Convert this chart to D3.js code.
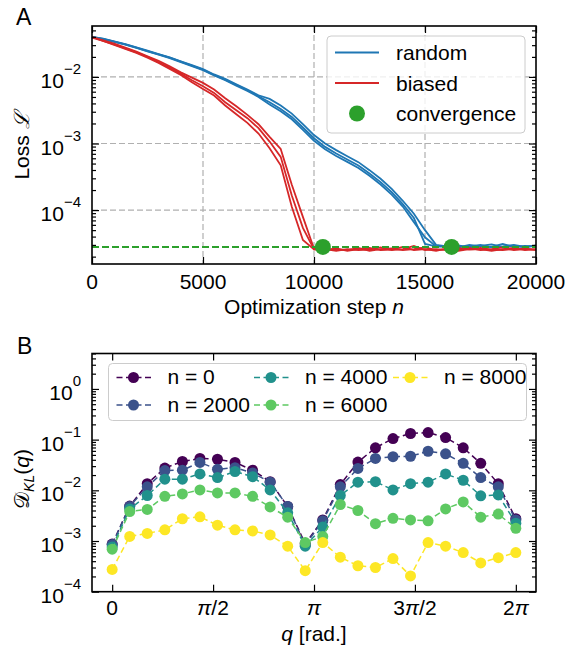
<!DOCTYPE html>
<html>
<head>
<meta charset="utf-8">
<script src="https://cdn.jsdelivr.net/npm/d3@7"></script>
<style>
  body { margin: 0; background: #fff; }
  svg text { font-family: "Liberation Sans", Arial, Helvetica, sans-serif; fill: #000; }
</style>
</head>
<body>
<div id="chart"></div>
<script>
// ---------- panel A : loss vs optimization step ----------
const steps = [0, 500, 1000, 1500, 2000, 2500, 3000, 3500, 4000, 4500, 5000, 5500, 6000, 6500,
  7000, 7500, 8000, 8500, 9000, 9500, 10000, 10500, 11000, 11500, 12000, 12500, 13000, 13500,
  14000, 14500, 15000, 15500, 16000, 16500, 17000, 17500, 18000, 18500, 19000, 19500, 20000];

const randomRun1 = [0.0398, 0.0372, 0.0339, 0.0309, 0.0275, 0.0245, 0.0219, 0.0195, 0.0170, 0.0148,
  0.0129, 0.0107, 0.00912, 0.00759, 0.00631, 0.00513, 0.00417, 0.00331, 0.00251, 0.00174, 0.00120,
  8.9e-4, 7.1e-4, 5.75e-4, 4.68e-4, 3.55e-4, 2.63e-4, 1.86e-4, 1.23e-4, 7.6e-5, 3.1e-5, 2.85e-5,
  2.8e-5, 2.95e-5, 2.75e-5, 2.9e-5, 3.05e-5, 2.8e-5, 2.9e-5, 2.75e-5, 2.95e-5];
const randomRun2 = [0.0398, 0.0375, 0.0342, 0.0312, 0.0278, 0.0248, 0.0221, 0.0197, 0.0172, 0.0150,
  0.0131, 0.0109, 0.00933, 0.00776, 0.00646, 0.00530, 0.00467, 0.00371, 0.00281, 0.00195, 0.00134,
  1.0e-3, 7.95e-4, 6.45e-4, 5.25e-4, 3.98e-4, 2.95e-4, 2.08e-4, 1.38e-4, 8.8e-5, 5.0e-5, 3.0e-5,
  2.85e-5, 2.75e-5, 3.0e-5, 2.85e-5, 2.8e-5, 3.1e-5, 2.8e-5, 2.9e-5, 2.85e-5];
const randomRun3 = [0.0394, 0.0368, 0.0335, 0.0305, 0.0272, 0.0242, 0.0216, 0.0192, 0.0167, 0.0145,
  0.0126, 0.0105, 0.00891, 0.00741, 0.00617, 0.00501, 0.00384, 0.00305, 0.00231, 0.00160, 0.00110,
  8.2e-4, 6.5e-4, 5.3e-4, 4.3e-4, 3.27e-4, 2.42e-4, 1.71e-4, 1.13e-4, 6.6e-5, 3.9e-5, 2.85e-5,
  2.9e-5, 2.8e-5, 2.85e-5, 3.0e-5, 2.75e-5, 2.85e-5, 3.0e-5, 2.8e-5, 2.9e-5];

const biasedRun1 = [0.0398, 0.0355, 0.0316, 0.0275, 0.0240, 0.0204, 0.0174, 0.0145, 0.0117, 0.00977,
  0.00813, 0.00646, 0.00479, 0.00363, 0.00269, 0.00195, 0.00126, 8.3e-4, 2.4e-4, 7.9e-5, 2.63e-5,
  2.5e-5, 2.65e-5, 2.45e-5, 2.6e-5, 2.7e-5, 2.5e-5, 2.55e-5, 2.8e-5, 2.5e-5, 2.6e-5,
  2.45e-5, 2.65e-5, 2.55e-5, 2.7e-5, 2.5e-5, 2.6e-5, 2.75e-5, 2.5e-5, 2.6e-5, 2.55e-5];
const biasedRun2 = [0.0398, 0.0347, 0.0309, 0.0269, 0.0234, 0.0200, 0.0166, 0.0138, 0.0112, 0.00891,
  0.00724, 0.00575, 0.00417, 0.00316, 0.00240, 0.00170, 0.00107, 6.3e-4, 1.66e-4, 5.4e-5, 2.57e-5,
  2.6e-5, 2.45e-5, 2.6e-5, 2.5e-5, 2.55e-5, 2.75e-5, 2.5e-5, 2.6e-5, 2.9e-5, 2.5e-5,
  2.6e-5, 2.5e-5, 2.7e-5, 2.55e-5, 2.6e-5, 2.45e-5, 2.6e-5, 2.7e-5, 2.5e-5, 2.6e-5];
const biasedRun3 = [0.0389, 0.0347, 0.0302, 0.0263, 0.0229, 0.0195, 0.0162, 0.0132, 0.0107, 0.00832,
  0.00661, 0.00525, 0.00372, 0.00275, 0.00204, 0.00141, 8.5e-4, 4.7e-4, 1.12e-4, 3.55e-5, 2.57e-5,
  2.55e-5, 2.6e-5, 2.5e-5, 2.7e-5, 2.45e-5, 2.6e-5, 2.65e-5, 2.5e-5, 2.6e-5, 2.75e-5,
  2.5e-5, 2.6e-5, 2.45e-5, 2.6e-5, 2.7e-5, 2.55e-5, 2.5e-5, 2.6e-5, 2.65e-5, 2.5e-5];

const convergenceSteps = [10400, 16200];
const lossFloor = 2.8e-5;
const stepTicks = [0, 5000, 10000, 15000, 20000];
const lossMajor = [1e-2, 1e-3, 1e-4];

// ---------- panel B : D_KL(q) snapshots ----------
const qValues = [0, 0.273, 0.546, 0.820, 1.093, 1.366, 1.639, 1.912, 2.185, 2.459, 2.732, 3.005,
  3.278, 3.551, 3.825, 4.098, 4.371, 4.644, 4.917, 5.190, 5.464, 5.737, 6.010, 6.283];
const dklN0 = [8.7e-4, 4.9e-3, 1.35e-2, 2.75e-2, 3.7e-2, 4.25e-2, 4.1e-2, 3.55e-2, 2.5e-2, 1.48e-2,
  4.8e-3, 8.9e-4, 2.6e-3, 1.3e-2, 3.6e-2, 6.9e-2, 0.105, 0.132, 0.138, 0.11, 0.069, 0.034, 0.0135, 0.00275];
const dklN2000 = [8.5e-4, 4.8e-3, 1.17e-2, 2.45e-2, 2.5e-2, 3.55e-2, 2.6e-2, 2.8e-2, 2.2e-2, 1.45e-2,
  4.8e-3, 8.3e-4, 2.5e-3, 1.17e-2, 2.7e-2, 4.25e-2, 4.6e-2, 4.7e-2, 5.9e-2, 5.25e-2, 3.4e-2, 1.78e-2, 1.17e-2, 2.6e-3];
const dklN4000 = [7.6e-4, 4.3e-3, 7.9e-3, 1.66e-2, 1.66e-2, 2.1e-2, 1.78e-2, 2.35e-2, 1.86e-2, 1.02e-2,
  3.6e-3, 7.9e-4, 1.9e-3, 7.9e-3, 1.45e-2, 1.48e-2, 1.02e-2, 1.35e-2, 1.45e-2, 2.1e-2, 1.58e-2, 7.8e-3, 8.1e-3, 2.25e-3];
const dklN6000 = [6.9e-4, 3.8e-3, 4.2e-3, 7.6e-3, 8.5e-3, 1.02e-2, 8.9e-3, 8.9e-3, 7.6e-3, 4.7e-3,
  2.95e-3, 9.3e-4, 1.23e-3, 5.25e-3, 4.0e-3, 2.2e-3, 2.8e-3, 2.6e-3, 2.5e-3, 4.3e-3, 5.9e-3, 2.95e-3, 3.4e-3, 1.78e-3];
const dklN8000 = [2.75e-4, 1.23e-3, 1.41e-3, 1.66e-3, 2.75e-3, 3.0e-3, 2.05e-3, 1.66e-3, 1.58e-3, 1.32e-3,
  7.9e-4, 2.6e-4, 9.3e-4, 4.8e-4, 3.25e-4, 3.0e-4, 4.5e-4, 2.05e-4, 9.3e-4, 7.9e-4, 5.9e-4, 3.7e-4, 4.7e-4, 5.9e-4];
const snapshotLabels = ["n = 0", "n = 2000", "n = 4000", "n = 6000", "n = 8000"];
const snapshotColors = ["#440154", "#3b528b", "#21918c", "#5ec962", "#fde725"];
const qTicks = [0, Math.PI / 2, Math.PI, 3 * Math.PI / 2, 2 * Math.PI];
const qTickLabels = ["0", "π/2", "π", "3π/2", "2π"];

const width = 574, height = 649;
const fs = 21;
const svg = d3.select("#chart").append("svg")
  .attr("width", width).attr("height", height);

const isDecade = v => Math.abs(Math.log10(v) - Math.round(Math.log10(v))) < 1e-9;

// inward ticks on all four sides of a box
function frame(g, x, y, box, xTickVals) {
  const yAll = y.ticks();
  const yMaj = yAll.filter(isDecade), yMin = yAll.filter(v => !isDecade(v));
  const parts = [
    [d3.axisBottom(x).tickValues(xTickVals).tickSize(-7), 0, box.bottom],
    [d3.axisTop(x).tickValues(xTickVals).tickSize(-7), 0, box.top],
    [d3.axisLeft(y).tickValues(yMaj).tickSize(-7), box.left, 0],
    [d3.axisLeft(y).tickValues(yMin).tickSize(-4), box.left, 0],
    [d3.axisRight(y).tickValues(yMaj).tickSize(-7), box.right, 0],
    [d3.axisRight(y).tickValues(yMin).tickSize(-4), box.right, 0]
  ];
  parts.forEach(([ax, tx, ty]) => {
    const a = g.append("g").attr("transform", `translate(${tx},${ty})`)
      .call(ax.tickFormat(""));
    a.select(".domain").remove();
    a.selectAll(".tick line").attr("stroke", "#000").attr("stroke-width", 1.2);
  });
  g.append("rect")
    .attr("x", box.left).attr("y", box.top)
    .attr("width", box.right - box.left).attr("height", box.bottom - box.top)
    .attr("fill", "none").attr("stroke", "#000").attr("stroke-width", 1.6);

  // 10^k labels
  g.selectAll("text.ylab").data(yMaj).join("text")
    .attr("class", "ylab")
    .attr("x", box.left - 11)
    .attr("y", d => y(d) + 11)
    .attr("text-anchor", "end")
    .each(function (d) {
      const e = Math.round(Math.log10(d));
      const t = d3.select(this);
      t.append("tspan").attr("font-size", fs).text("10");
      t.append("tspan").attr("font-size", 15).attr("dy", -14)
        .text(e < 0 ? "\u2212" + (-e) : String(e));
    });
}

// ================= panel A =================
const boxA = { left: 92, right: 536, top: 26, bottom: 264 };
const xA = d3.scaleLinear().domain([0, 20000]).range([boxA.left, boxA.right]);
const yA = d3.scaleLog().domain([1.55e-5, 0.0582]).range([boxA.bottom, boxA.top]);
const gA = svg.append("g");

// grid
gA.append("g").selectAll("line").data(stepTicks.slice(1, -1)).join("line")
  .attr("x1", d => xA(d)).attr("x2", d => xA(d))
  .attr("y1", boxA.top).attr("y2", boxA.bottom)
  .attr("stroke", "#b0b0b0").attr("stroke-width", 1.2).attr("stroke-dasharray", "6,3");
gA.append("g").selectAll("line").data(lossMajor).join("line")
  .attr("x1", boxA.left).attr("x2", boxA.right)
  .attr("y1", d => yA(d)).attr("y2", d => yA(d))
  .attr("stroke", "#b0b0b0").attr("stroke-width", 1.2).attr("stroke-dasharray", "6,3");

const lineA = d3.line().x((d, i) => xA(steps[i])).y(d => yA(d));
[randomRun1, randomRun2, randomRun3].forEach(run => {
  gA.append("path").attr("d", lineA(run)).attr("fill", "none")
    .attr("stroke", "#1f77b4").attr("stroke-width", 1.8);
});
[biasedRun1, biasedRun2, biasedRun3].forEach(run => {
  gA.append("path").attr("d", lineA(run)).attr("fill", "none")
    .attr("stroke", "#d62728").attr("stroke-width", 1.8);
});

gA.append("line")
  .attr("x1", xA(0)).attr("x2", xA(20000))
  .attr("y1", yA(lossFloor)).attr("y2", yA(lossFloor))
  .attr("stroke", "#2ca02c").attr("stroke-width", 2).attr("stroke-dasharray", "7,3");

gA.selectAll("circle.conv").data(convergenceSteps).join("circle")
  .attr("class", "conv")
  .attr("cx", d => xA(d)).attr("cy", yA(lossFloor)).attr("r", 8)
  .attr("fill", "#2ca02c");

frame(gA, xA, yA, boxA, stepTicks);

gA.selectAll("text.xlab").data(stepTicks).join("text")
  .attr("class", "xlab")
  .attr("x", d => xA(d)).attr("y", boxA.bottom + 25)
  .attr("text-anchor", "middle").attr("font-size", fs)
  .text(d => d);

gA.append("text").attr("x", (boxA.left + boxA.right) / 2).attr("y", 314)
  .attr("text-anchor", "middle").attr("font-size", fs)
  .call(t => {
    t.append("tspan").text("Optimization step ");
    t.append("tspan").attr("font-style", "italic").text("n");
  });

gA.append("text").attr("transform", "translate(28.5,146) rotate(-90)")
  .attr("text-anchor", "middle").attr("font-size", fs)
  .call(t => {
    t.append("tspan").text("Loss ");
    t.append("tspan").attr("font-style", "italic").text("\u2112");
  });

svg.append("text").attr("x", 16).attr("y", 25).attr("font-size", 23).text("A");

// legend A
const legA = gA.append("g");
legA.append("rect").attr("x", 327).attr("y", 36).attr("width", 198).attr("height", 97)
  .attr("rx", 4).attr("fill", "#fff").attr("fill-opacity", 0.8)
  .attr("stroke", "#cccccc").attr("stroke-width", 1);
const legItemsA = [
  { label: "random", color: "#1f77b4", kind: "line" },
  { label: "biased", color: "#d62728", kind: "line" },
  { label: "convergence", color: "#2ca02c", kind: "dot" }
];
legItemsA.forEach((d, i) => {
  const cy = 52.5 + i * 30.5;
  if (d.kind === "line") {
    legA.append("line").attr("x1", 335).attr("x2", 379).attr("y1", cy).attr("y2", cy)
      .attr("stroke", d.color).attr("stroke-width", 2);
  } else {
    legA.append("circle").attr("cx", 357).attr("cy", cy).attr("r", 8).attr("fill", d.color);
  }
  legA.append("text").attr("x", 396).attr("y", cy + 7.5).attr("font-size", fs).text(d.label);
});

// ================= panel B =================
const boxB = { left: 92, right: 536, top: 353.5, bottom: 591.7 };
const xB = d3.scaleLinear().domain([-0.314, 6.597]).range([boxB.left, boxB.right]);
const yB = d3.scaleLog().domain([1e-4, 5]).range([boxB.bottom, boxB.top]);
const gB = svg.append("g");

const seriesB = [dklN0, dklN2000, dklN4000, dklN6000, dklN8000];
const lineB = d3.line().x((d, i) => xB(qValues[i])).y(d => yB(d));
seriesB.forEach((vals, s) => {
  const c = snapshotColors[s];
  gB.append("path").attr("d", lineB(vals)).attr("fill", "none")
    .attr("stroke", c).attr("stroke-width", 1.5).attr("stroke-dasharray", "6,3.5");
  gB.append("g").selectAll("circle").data(vals).join("circle")
    .attr("cx", (d, i) => xB(qValues[i])).attr("cy", d => yB(d)).attr("r", 5.5)
    .attr("fill", c);
});

frame(gB, xB, yB, boxB, qTicks);

gB.selectAll("text.xlab").data(qTicks).join("text")
  .attr("class", "xlab")
  .attr("x", d => xB(d)).attr("y", boxB.bottom + 23.5)
  .attr("text-anchor", "middle").attr("font-size", fs)
  .each(function (d, i) {
    const t = d3.select(this);
    qTickLabels[i].split(/(π)/).filter(s => s.length).forEach(s => {
      t.append("tspan").attr("font-style", s === "π" ? "italic" : null).text(s);
    });
  });

gB.append("text").attr("x", (boxB.left + boxB.right) / 2).attr("y", 641)
  .attr("text-anchor", "middle").attr("font-size", fs)
  .call(t => {
    t.append("tspan").attr("font-style", "italic").text("q");
    t.append("tspan").text(" [rad.]");
  });

gB.append("text").attr("transform", "translate(29,479) rotate(-90)")
  .attr("text-anchor", "middle").attr("font-size", fs)
  .call(t => {
    t.append("tspan").text("\uD835\uDC9F");
    t.append("tspan").attr("font-size", 14).attr("font-style", "italic").attr("dy", 5).text("KL");
    t.append("tspan").attr("dy", -5).text("(");
    t.append("tspan").attr("font-style", "italic").text("q");
    t.append("tspan").text(")");
  });

svg.append("text").attr("x", 17).attr("y", 353.5).attr("font-size", 23).text("B");

// legend B (3 columns, column-major)
const legB = gB.append("g");
legB.append("rect").attr("x", 108.5).attr("y", 363.5).attr("width", 418).attr("height", 57)
  .attr("rx", 4).attr("fill", "#fff").attr("fill-opacity", 0.8)
  .attr("stroke", "#cccccc").attr("stroke-width", 1);
const colX = [133.5, 271, 410];
snapshotLabels.forEach((label, s) => {
  const cx = colX[Math.floor(s / 2)], cy = 377.5 + (s % 2) * 27.5;
  legB.append("line").attr("x1", cx - 17).attr("x2", cx + 20).attr("y1", cy).attr("y2", cy)
    .attr("stroke", snapshotColors[s]).attr("stroke-width", 1.5).attr("stroke-dasharray", "6,3.5");
  legB.append("circle").attr("cx", cx).attr("cy", cy).attr("r", 5.5).attr("fill", snapshotColors[s]);
  legB.append("text").attr("x", cx + 34).attr("y", cy + 6.5).attr("font-size", fs).text(label);
});
</script>
</body>
</html>
